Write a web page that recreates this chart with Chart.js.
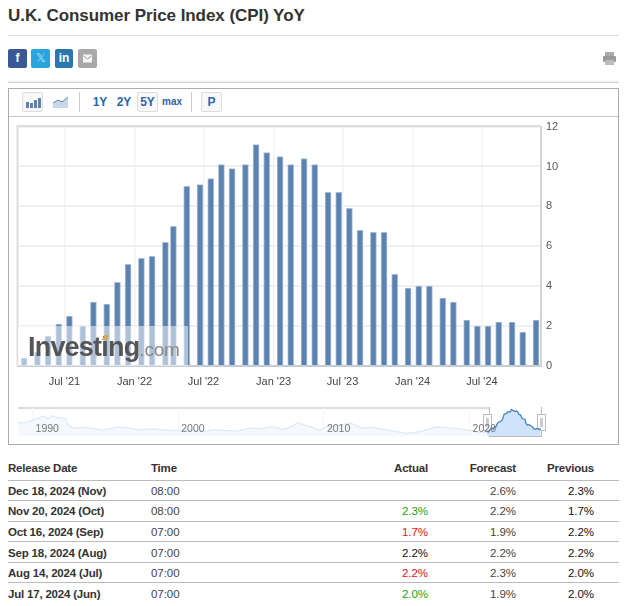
<!DOCTYPE html>
<html>
<head>
<meta charset="utf-8">
<title>U.K. Consumer Price Index (CPI) YoY</title>
<script src="https://cdn.jsdelivr.net/npm/chart.js@4"></script>
<style>
html, body { margin: 0; padding: 0; background: #fff; overflow: hidden; }
body { width: 627px; height: 606px; position: relative; font-family: "Liberation Sans", Arial, sans-serif; color: #333; }
.abs { position: absolute; }
h1 { position: absolute; left: 8px; top: 6px; margin: 0; font-size: 17px; line-height: 20px; font-weight: bold; color: #333; white-space: nowrap; letter-spacing: -0.06px; }
.share { position: absolute; top: 49px; width: 19px; height: 19px; border-radius: 2px; color: #fff; text-align: center; font-weight: bold; font-size: 12px; line-height: 19px; }
.tool { position: absolute; top: 92px; height: 20px; line-height: 20px; text-align: center; font-size: 12px; font-weight: bold; color: #2a66a8; box-sizing: border-box; }
.boxed { border: 1px solid #ddd; border-radius: 2px; background: #f8f8f8; line-height: 18px; }
.sep { position: absolute; top: 92px; width: 1px; height: 20px; background: #ccc; }
canvas { position: absolute; }
#main { left: 0; top: 115px; }
#nav { left: 0; top: 405px; z-index: 3; }
.wm { position: absolute; left: 18px; top: 326px; width: 170px; height: 40px; background: rgba(255,255,255,.5); z-index: 4; }
.wm1 { position: absolute; left: 10px; top: 5px; font-size: 27px; line-height: 32px; font-weight: bold; color: #555; letter-spacing: -0.8px; white-space: nowrap; }
.wm2 { font-size: 19px; font-weight: normal; color: #888; letter-spacing: -0.2px; }
.wm3 { position: absolute; left: 85px; top: 9px; width: 5px; height: 5px; background: #d8a850; transform: skewX(-25deg); }
.handle { position: absolute; top: 414px; width: 7px; height: 15px; background: #fff; border: 1px solid #bbb; z-index: 2; }
.handle i { position: absolute; left: 2px; top: 3px; width: 3px; height: 9px; background: #ccc; }
table { position: absolute; left: 8px; top: 459px; width: 611px; border-collapse: collapse; table-layout: fixed; font-size: 11.5px; letter-spacing: -0.05px; }
th { height: 21px; padding: 1px 0 0 0; box-sizing: border-box; font-weight: bold; color: #333; text-align: left; border-bottom: 1px solid #bbb; vertical-align: top; line-height: 17px; letter-spacing: -0.2px; }
td { height: 20.6px; padding: 1px 0 0 0; box-sizing: border-box; border-bottom: 1px solid #bbb; color: #444; }
tr:last-child td { border-bottom: none; }
td:first-child { font-weight: bold; color: #333; letter-spacing: -0.2px; }
.r { text-align: right; }
.pv { color: #111; }
.up { color: #18a018; }
.dn { color: #e8101c; }
.eq { color: #111; }
</style>
</head>
<body>
<h1>U.K. Consumer Price Index (CPI) YoY</h1>
<div class="abs" style="left:8px;top:35px;width:611px;height:1px;background:#ddd"></div>

<div class="share" style="left:8px;background:#3b5795">f</div>
<div class="share" style="left:31px;background:#29a4de;font-weight:normal;color:#bfe3f5">𝕏</div>
<div class="share" style="left:55px;width:18px;background:#2b78b0">in</div>
<div class="share" style="left:78px;background:#a8a8a8">
  <svg width="19" height="19"><rect x="5" y="5.5" width="9" height="8" fill="#f4f4f4"/><path d="M5.5 7 L9.5 10 L13.5 7" fill="none" stroke="#999"/></svg>
</div>
<svg class="abs" style="left:602px;top:51px" width="15" height="15">
  <rect x="3" y="1" width="9" height="4" fill="#aaa"/><rect x="1" y="5" width="13" height="6" rx="1" fill="#999"/><rect x="3" y="9" width="9" height="5" fill="#bbb"/>
</svg>
<div class="abs" style="left:8px;top:79px;width:611px;height:4px;background:linear-gradient(#fff,#ececec)"></div>
<div class="abs" style="left:8px;top:82px;width:611px;height:1px;background:#ccc"></div>

<!-- chart frame and toolbar -->
<div class="abs" style="left:8px;top:88px;width:609px;height:355px;border:1px solid #aaa"></div>
<div class="abs" style="left:9px;top:116px;width:609px;height:1px;background:#c4c4c4"></div>
<div class="tool boxed" style="left:22px;width:21px">
  <svg width="19" height="18" style="display:block"><g fill="#5b82b0"><rect x="3" y="9" width="3" height="6"/><rect x="7" y="10" width="3" height="5"/><rect x="11" y="7" width="3" height="8"/><rect x="15" y="5" width="3" height="10"/></g></svg>
</div>
<svg class="abs" style="left:52px;top:94px" width="18" height="16">
  <path d="M1 9 L6 6 L10 8 L16 3 L16 14 L1 14 Z" fill="#c9d8e8"/><path d="M1 9 L6 6 L10 8 L16 3" fill="none" stroke="#5b82b0"/>
</svg>
<div class="sep" style="left:79px"></div>
<div class="tool" style="left:91px;width:18px">1Y</div>
<div class="tool" style="left:115px;width:18px">2Y</div>
<div class="tool boxed" style="left:137px;width:21px">5Y</div>
<div class="tool" style="left:162px;width:20px;font-size:10px">max</div>
<div class="sep" style="left:191px"></div>
<div class="tool boxed" style="left:201px;width:21px">P</div>

<canvas id="main" width="600" height="285" style="width:600px;height:285px"></canvas>

<div class="wm">
  <div class="wm1">Investing<span class="wm2">.com</span></div>
  <div class="wm3"></div>
</div>

<!-- navigator selection -->
<div class="abs" style="left:18px;top:407px;width:471px;height:2px;background:#ddd"></div>
<div class="abs" style="left:489px;top:407px;width:1px;height:29px;background:#bbb"></div>
<div class="abs" style="left:489px;top:436px;width:53px;height:1px;background:#bbb"></div>
<div class="abs" style="left:541px;top:407px;width:1px;height:29px;background:#bbb"></div>
<div class="handle" style="left:483px"><i></i></div>
<div class="handle" style="left:537px"><i></i></div>
<canvas id="nav" width="600" height="36" style="width:600px;height:36px"></canvas>

<table>
  <colgroup><col style="width:143px"><col style="width:100px"><col style="width:177px"><col style="width:88px"><col style="width:78px"><col style="width:25px"></colgroup>
  <tr><th>Release Date</th><th>Time</th><th class="r">Actual</th><th class="r">Forecast</th><th class="r">Previous</th><th></th></tr>
  <tr><td>Dec 18, 2024 (Nov)</td><td>08:00</td><td class="r"></td><td class="r">2.6%</td><td class="r pv">2.3%</td><td></td></tr>
  <tr><td>Nov 20, 2024 (Oct)</td><td>08:00</td><td class="r up">2.3%</td><td class="r">2.2%</td><td class="r pv">1.7%</td><td></td></tr>
  <tr><td>Oct 16, 2024 (Sep)</td><td>07:00</td><td class="r dn">1.7%</td><td class="r">1.9%</td><td class="r pv">2.2%</td><td></td></tr>
  <tr><td>Sep 18, 2024 (Aug)</td><td>07:00</td><td class="r eq">2.2%</td><td class="r">2.2%</td><td class="r pv">2.2%</td><td></td></tr>
  <tr><td>Aug 14, 2024 (Jul)</td><td>07:00</td><td class="r dn">2.2%</td><td class="r">2.3%</td><td class="r pv">2.0%</td><td></td></tr>
  <tr><td>Jul 17, 2024 (Jun)</td><td>07:00</td><td class="r up">2.0%</td><td class="r">1.9%</td><td class="r pv">2.0%</td><td></td></tr>
</table>

<script>
// release dates of the monthly bars
var releaseDates = [
  '2021-03-17', '2021-04-21', '2021-05-19', '2021-06-16', '2021-07-14', '2021-08-18', '2021-09-15', '2021-10-20', '2021-11-17', '2021-12-15',
  '2022-01-19', '2022-02-16', '2022-03-23', '2022-04-13', '2022-05-18', '2022-06-22', '2022-07-20', '2022-08-17', '2022-09-14', '2022-10-19', '2022-11-16', '2022-12-14',
  '2023-01-18', '2023-02-15', '2023-03-22', '2023-04-19', '2023-05-24', '2023-06-21', '2023-07-19', '2023-08-16', '2023-09-20', '2023-10-18', '2023-11-15', '2023-12-20',
  '2024-01-17', '2024-02-14', '2024-03-20', '2024-04-17', '2024-05-22', '2024-06-19', '2024-07-17', '2024-08-14', '2024-09-18', '2024-10-16', '2024-11-20'
];
var cpiValues = [
  0.4, 0.7, 1.5, 2.1, 2.5, 2.0, 3.2, 3.1, 4.2, 5.1,
  5.4, 5.5, 6.2, 7.0, 9.0, 9.1, 9.4, 10.1, 9.9, 10.1, 11.1, 10.7,
  10.5, 10.1, 10.4, 10.1, 8.7, 8.7, 7.9, 6.8, 6.7, 6.7, 4.6, 3.9,
  4.0, 4.0, 3.4, 3.2, 2.3, 2.0, 2.0, 2.2, 2.2, 1.7, 2.3
];
var tickDates = ['2021-07-01', '2022-01-01', '2022-07-01', '2023-01-01', '2023-07-01', '2024-01-01', '2024-07-01'];
var tickLabels = ["Jul '21", "Jan '22", "Jul '22", "Jan '23", "Jul '23", "Jan '24", "Jul '24"];
var yTicks = [0, 2, 4, 6, 8, 10, 12];

// long history in the navigator strip
var navYears = [1989, 1989.6, 1990.75, 1991.1, 1991.35, 1991.7, 1992.26, 1992.4, 1992.8, 1993.6, 1994, 1994.8, 1995.8, 1996.8, 1997.2, 1998.2, 1999.2, 2000.1, 2001, 2001.7, 2002.4, 2003, 2004, 2005, 2005.6, 2006.5, 2007.1, 2007.5, 2008.2, 2009.7, 2010.2, 2011.1, 2011.8, 2012.6, 2013.4, 2014, 2015, 2015.7, 2016.6, 2017.7, 2018.9, 2020, 2020.7, 2021.22];
var navValues = [4.9, 5.1, 8.0, 6.8, 8.2, 7.3, 6.8, 4.3, 2.5, 2.8, 2.5, 1.4, 2.9, 2.4, 1.6, 2.1, 1.5, 1.3, 1.6, 0.7, 1.6, 1.4, 1.1, 2.5, 2.2, 3.2, 1.9, 2.3, 5.0, 1.5, 3.3, 3.8, 4.9, 2.5, 2.8, 1.9, 0.8, 0, 0.8, 3.0, 2.4, 1.5, 0.5, 0.4];
var navTicks = [1990, 2000, 2010, 2020];

function ms(d) { return Date.parse(d + 'T00:00:00Z'); }
function toYear(d) { return 1970 + ms(d) / 31557600000; }

var frame = {
  id: 'frame',
  afterDraw: function(chart) {
    var a = chart.chartArea, c = chart.ctx;
    c.save();
    c.strokeStyle = '#ddd';
    c.lineWidth = 2;
    c.beginPath();
    c.moveTo(a.left - 0.5, a.bottom);
    c.lineTo(a.left - 0.5, a.top - 0.5);
    c.lineTo(a.right, a.top - 0.5);
    c.stroke();
    c.restore();
  }
};

// year labels sit inside the navigator strip, just right of their grid lines
var navLabels = {
  id: 'navLabels',
  afterDraw: function(chart) {
    var c = chart.ctx, s = chart.scales.x;
    c.save();
    c.fillStyle = '#777';
    c.font = '10.5px "Liberation Sans"';
    c.textBaseline = 'middle';
    navTicks.forEach(function(v) {
      c.fillText(String(v), s.getPixelForValue(v) + 3, 24);
    });
    c.restore();
  }
};

new Chart(document.getElementById('main'), {
  type: 'bar',
  data: {
    datasets: [{
      data: releaseDates.map(function(d, i) { return { x: ms(d), y: cpiValues[i] }; }),
      backgroundColor: '#5b82b0',
      borderColor: '#a9bdd7',
      borderWidth: 1,
      barThickness: 6
    }]
  },
  options: {
    responsive: false,
    animation: false,
    layout: { padding: { left: 18, top: 11, right: 0, bottom: 0 } },
    plugins: { legend: { display: false }, tooltip: { enabled: false } },
    scales: {
      x: {
        type: 'linear',
        offset: false,
        min: ms('2021-03-01'),
        max: ms('2024-12-03'),
        afterBuildTicks: function(s) { s.ticks = tickDates.map(function(d) { return { value: ms(d) }; }); },
        afterFit: function(s) { s.height = 34; },
        grid: { color: '#f3f3f3', lineWidth: 1.5, drawTicks: false, offset: false },
        border: { color: '#c6ccd6', width: 2 },
        ticks: {
          autoSkip: false, maxRotation: 0, padding: 9,
          color: '#444', font: { family: '"Liberation Sans"', size: 11 },
          callback: function(v) { return tickLabels[tickDates.findIndex(function(d) { return ms(d) === v; })]; }
        }
      },
      y: {
        position: 'right',
        min: 0,
        max: 12,
        afterBuildTicks: function(s) { s.ticks = yTicks.map(function(v) { return { value: v }; }); },
        afterFit: function(s) { s.width = 59; },
        grid: { color: '#f0f0f0', lineWidth: 2, drawTicks: false },
        border: { color: '#d4d4d4', width: 2 },
        ticks: { padding: 5, color: '#555', font: { family: '"Liberation Sans"', size: 11 } }
      }
    }
  },
  plugins: [frame]
});

new Chart(document.getElementById('nav'), {
  type: 'line',
  data: {
    datasets: [{
      data: navYears.map(function(y, i) { return { x: y, y: navValues[i] }; }),
      borderColor: '#dde9f5',
      backgroundColor: '#f5f9fe',
      borderWidth: 1.2,
      pointRadius: 0,
      fill: 'start'
    }, {
      data: releaseDates.map(function(d, i) { return { x: toYear(d), y: cpiValues[i] }; }),
      borderColor: '#3f7cc0',
      backgroundColor: '#cfe3fa',
      borderWidth: 1.2,
      pointRadius: 0,
      fill: 'start'
    }]
  },
  options: {
    responsive: false,
    animation: false,
    layout: { padding: { left: 18, top: 3, right: 59, bottom: 0 } },
    plugins: { legend: { display: false }, tooltip: { enabled: false } },
    scales: {
      x: {
        type: 'linear',
        min: 1989,
        max: 2024.9,
        afterBuildTicks: function(s) { s.ticks = navTicks.map(function(v) { return { value: v }; }); },
        afterFit: function(s) { s.height = 5; },
        grid: { color: '#f6f6f6', drawTicks: false },
        border: { display: false },
        ticks: { display: false }
      },
      y: { display: false, min: -1.2, max: 11.8 }
    }
  },
  plugins: [navLabels]
});
</script>
</body>
</html>
